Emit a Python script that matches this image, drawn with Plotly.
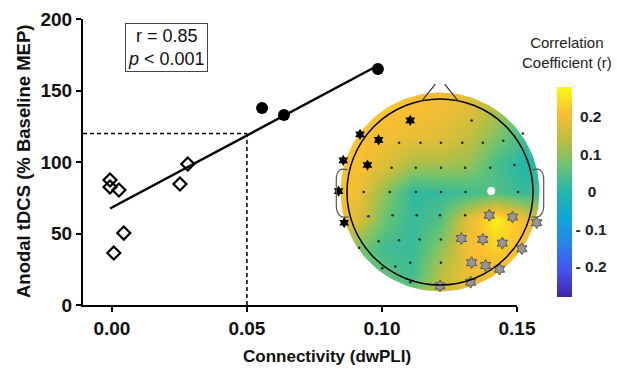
import numpy as np
import plotly.graph_objects as go

# ---------------- data ----------------
# scatter: open diamonds (low connectivity) and filled circles (high connectivity)
diamond_x = [-0.0007, -0.0007, 0.0026, 0.0044, 0.0007, 0.0252, 0.0281]
diamond_y = [87.4, 82.5, 80.4, 50.3, 36.4, 84.6, 98.6]
circle_x = [0.0556, 0.0637, 0.0985]
circle_y = [137.8, 132.9, 165.0]
fit_x = [-0.0007, 0.0985]
fit_y = [67.5, 167.5]
ref_x = 0.05
ref_y = 120
stats_text = "r = 0.85<br><i>p</i> < 0.001"

x_ticks = [0.0, 0.05, 0.10, 0.15]
x_ticktext = ["0.00", "0.05", "0.10", "0.15"]
y_ticks = [0, 50, 100, 150, 200]

# topographic map: correlation values on a coarse grid (rows listed top -> bottom)
grid_u = [-1.2, -0.9, -0.6, -0.3, 0.0, 0.3, 0.6, 0.9, 1.2]
grid_v_top_down = [1.2, 0.9, 0.6, 0.3, 0.0, -0.3, -0.6, -0.9, -1.2]
grid_r_top_down = [
    [0.25, 0.24, 0.22, 0.21, 0.20, 0.19, 0.14, 0.09, 0.06],
    [0.25, 0.23, 0.22, 0.21, 0.20, 0.18, 0.13, 0.07, 0.05],
    [0.24, 0.22, 0.20, 0.19, 0.18, 0.15, 0.09, 0.03, 0.02],
    [0.23, 0.21, 0.18, 0.12, 0.12, 0.11, 0.04, 0.00, 0.01],
    [0.22, 0.20, 0.10, 0.01, 0.02, 0.03, 0.05, 0.02, 0.04],
    [0.21, 0.18, 0.07, 0.02, 0.05, 0.18, 0.27, 0.20, 0.14],
    [0.12, 0.09, 0.03, 0.02, 0.10, 0.20, 0.23, 0.21, 0.16],
    [0.10, 0.09, 0.06, 0.03, 0.14, 0.19, 0.20, 0.19, 0.16],
    [0.12, 0.12, 0.12, 0.12, 0.17, 0.20, 0.20, 0.18, 0.16],
]
cbar_ticks = [-0.2, -0.1, 0.0, 0.1, 0.2]
cbar_ticktext = ["- 0.2", "- 0.1", "\u2002\u00a00", "\u00a00.1", "\u00a00.2"]
cbar_title = "Correlation<br>Coefficient (r)"

# electrodes (head coordinates, radius 1 = head outline)
elec_u = [0.34, -0.44, -0.21, 0.01, 0.24, 0.46, 0.68, 0.89,
          -0.52, -0.26, 0.01, 0.27, 0.54, 0.80,
          -0.82, -0.54, -0.26, 0.01, 0.275, 0.84,
          -0.77, -0.51, -0.25, 0.0, 0.27,
          -0.66, -0.44, -0.22, 0.01,
          -0.87, -0.62, -0.48, -0.32, 0.01, -0.32]
elec_v = [0.77, 0.53, 0.53, 0.53, 0.53, 0.53, 0.55, 0.63,
          0.26, 0.26, 0.26, 0.26, 0.26, 0.29,
          0.0, 0.0, 0.0, 0.0, 0.0, 0.0,
          -0.26, -0.25, -0.25, -0.25, -0.25,
          -0.53, -0.52, -0.51, -0.51,
          -0.60, -0.82, -0.80, -0.76, -0.76, -0.97]
neg_u = [-0.32, -0.86, -0.66, -1.04, -0.78, -1.09, -1.03]
neg_v = [0.77, 0.62, 0.56, 0.34, 0.29, 0.01, -0.33]
pos_u = [0.53, 0.78, 1.04, 0.23, 0.46, 0.67, 0.88, 0.34, 0.49, 0.64, 0.0, 0.33]
pos_v = [-0.25, -0.27, -0.33, -0.50, -0.51, -0.55, -0.61, -0.76, -0.79, -0.83, -1.01, -0.97]
seed_u = [0.55]
seed_v = [0.01]

# ---------------- layout geometry (pixel-based, zero margins) ----------------
W, H = 617, 378


def fx(px):
    return px / W


def fy(py):
    return (H - py) / H


XMIN, XMAX = -0.0107, 0.15
FONT = "Arial, Liberation Sans, sans-serif"

# main plot area in pixels
PX0, PX1, PY0, PY1 = 83, 517, 19, 305

# head axes geometry (pixels)
HCX, HCY, HR = 440, 192, 93
HEXT = 1.45
head_xdom = [fx(HCX - HEXT * HR), fx(HCX + HEXT * HR)]
head_ydom = [fy(HCY + HEXT * HR), fy(HCY - HEXT * HR)]

parula = [
    [0.0, "rgb(62,38,168)"],
    [0.125, "rgb(70,80,240)"],
    [0.25, "rgb(40,130,235)"],
    [0.375, "rgb(15,165,215)"],
    [0.5, "rgb(35,182,170)"],
    [0.625, "rgb(105,195,115)"],
    [0.75, "rgb(190,190,65)"],
    [0.875, "rgb(250,190,50)"],
    [1.0, "rgb(249,251,14)"],
]

fig = go.Figure()

# --- topomap heatmap (subplot xy, drawn beneath the scatter subplot) ---
grid_v = grid_v_top_down[::-1]
grid_r = grid_r_top_down[::-1]
fig.add_trace(go.Heatmap(
    x=grid_u, y=grid_v, z=grid_r, zsmooth="best",
    colorscale=parula, zmin=-0.28, zmax=0.28,
    xaxis="x", yaxis="y", hoverinfo="skip",
    colorbar=dict(
        x=fx(557), xanchor="left", xpad=0,
        y=fy(192), yanchor="middle", ypad=0,
        len=210, lenmode="pixels", thickness=15,
        outlinewidth=0, ticks="",
        tickvals=cbar_ticks, ticktext=cbar_ticktext,
        tickfont=dict(family=FONT, size=15.5, color="#222", weight="bold"),
    ),
))

# white mask outside the head disc (square with circular hole)
R_DISC = 1.07
th = np.linspace(0, -2 * np.pi, 181)
S = 1.6
mask_x = [S, S, -S, -S, S, S] + list(R_DISC * np.cos(th)) + [S]
mask_y = [0, S, S, -S, -S, 0] + list(R_DISC * np.sin(th)) + [0]
fig.add_trace(go.Scatter(
    x=mask_x, y=mask_y, mode="lines", fill="toself", fillcolor="white",
    line=dict(width=0, color="white"), xaxis="x", yaxis="y",
    hoverinfo="skip", showlegend=False,
))

# electrodes
fig.add_trace(go.Scatter(
    x=elec_u, y=elec_v, mode="markers", xaxis="x", yaxis="y",
    marker=dict(size=2.5, color="#222"), hoverinfo="skip", showlegend=False))
fig.add_trace(go.Scatter(
    x=neg_u, y=neg_v, mode="markers", xaxis="x", yaxis="y",
    marker=dict(symbol="hexagram", size=8.5, color="black", line=dict(width=0)),
    hoverinfo="skip", showlegend=False))
fig.add_trace(go.Scatter(
    x=pos_u, y=pos_v, mode="markers", xaxis="x", yaxis="y",
    marker=dict(symbol="hexagram", size=9, color="rgb(150,150,150)",
                line=dict(width=1, color="rgb(85,85,85)")),
    hoverinfo="skip", showlegend=False))
fig.add_trace(go.Scatter(
    x=seed_u, y=seed_v, mode="markers", xaxis="x", yaxis="y",
    marker=dict(size=8, color="white"), hoverinfo="skip", showlegend=False))

# --- main scatter (subplot x2y2, drawn on top) ---
fig.add_trace(go.Scatter(
    x=fit_x, y=fit_y, mode="lines", line=dict(color="black", width=2.5),
    xaxis="x2", yaxis="y2", hoverinfo="skip", showlegend=False))
fig.add_trace(go.Scatter(
    x=diamond_x, y=diamond_y, mode="markers", xaxis="x2", yaxis="y2",
    marker=dict(symbol="diamond-open", size=10, color="black", line=dict(width=2.2)),
    showlegend=False))
fig.add_trace(go.Scatter(
    x=circle_x, y=circle_y, mode="markers", xaxis="x2", yaxis="y2",
    marker=dict(symbol="circle", size=12, color="black"),
    showlegend=False))

shapes = [
    dict(type="line", xref="x2", yref="y2", x0=XMIN, x1=ref_x, y0=ref_y, y1=ref_y,
         line=dict(color="black", width=1.5, dash="4px,3px")),
    dict(type="line", xref="x2", yref="y2", x0=ref_x, x1=ref_x, y0=0, y1=ref_y,
         line=dict(color="black", width=1.5, dash="4px,3px")),
    # head outline
    dict(type="circle", xref="x", yref="y", x0=-1, x1=1, y0=-1, y1=1,
         line=dict(color="black", width=1.5)),
    # nose
    dict(type="path", xref="x", yref="y",
         path="M -0.19 0.985 L -0.05 1.16 M 0.05 1.16 L 0.19 0.985",
         line=dict(color="#333", width=1.2)),
    # ears
    dict(type="path", xref="x", yref="y",
         path="M -0.995 0.24 L -1.06 0.245 Q -1.12 0.22 -1.115 0.12 L -1.115 -0.14 "
              "Q -1.12 -0.24 -1.05 -0.27 L -0.985 -0.27",
         line=dict(color="#555", width=1.2)),
    dict(type="path", xref="x", yref="y",
         path="M 0.995 0.24 L 1.06 0.245 Q 1.12 0.22 1.115 0.12 L 1.115 -0.14 "
              "Q 1.12 -0.24 1.05 -0.27 L 0.985 -0.27",
         line=dict(color="#555", width=1.2)),
]

annotations = [
    dict(text=stats_text, xref="paper", yref="paper", x=fx(166.5), y=fy(47.5),
         xanchor="center", yanchor="middle", showarrow=False,
         font=dict(family=FONT, size=18, color="#111"),
         bordercolor="#444", borderwidth=1, borderpad=2, bgcolor="white"),
    dict(text=cbar_title, xref="paper", yref="paper", x=fx(567), y=fy(52),
         xanchor="center", yanchor="middle", showarrow=False,
         font=dict(family=FONT, size=15, color="#222")),
    dict(text="Connectivity (dwPLI)", xref="paper", yref="paper", x=fx(327), y=fy(356),
         xanchor="center", yanchor="middle", showarrow=False,
         font=dict(family=FONT, size=17, color="#111", weight="bold")),
    dict(text="Anodal tDCS (% Baseline MEP)", xref="paper", yref="paper", x=fx(23), y=fy(162),
         xanchor="center", yanchor="middle", showarrow=False, textangle=-90,
         font=dict(family=FONT, size=18.5, color="#111", weight="bold")),
]

axis_common = dict(showgrid=False, zeroline=False, showline=True, linecolor="black",
                   linewidth=2, ticks="outside", ticklen=5, tickwidth=2, tickcolor="black",
                   automargin=False,
                   tickfont=dict(family=FONT, size=19, color="#111", weight="bold"))

fig.update_layout(
    width=W, height=H,
    margin=dict(l=0, r=0, t=0, b=0, pad=0, autoexpand=False),
    paper_bgcolor="white", plot_bgcolor="rgba(0,0,0,0)",
    showlegend=False,
    xaxis2=dict(domain=[fx(PX0), fx(PX1)], range=[XMIN, XMAX], tickvals=x_ticks,
                ticktext=x_ticktext, anchor="y2", **axis_common),
    yaxis2=dict(domain=[fy(PY1), fy(PY0)], range=[0, 200], tickvals=y_ticks, anchor="x2",
                **axis_common),
    xaxis=dict(domain=head_xdom, range=[-HEXT, HEXT], visible=False, anchor="y",
               automargin=False),
    yaxis=dict(domain=head_ydom, range=[-HEXT, HEXT], visible=False, anchor="x",
               automargin=False),
    shapes=shapes,
    annotations=annotations,
)

fig.write_html("out.html", config={"displayModeBar": False},
               post_script="document.body.style.margin='0px';")
